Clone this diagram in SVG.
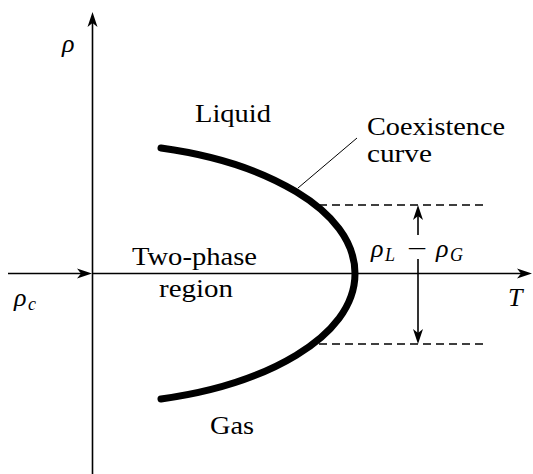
<svg xmlns="http://www.w3.org/2000/svg" width="533" height="474" viewBox="0 0 533 474">
<style>
.ax{stroke:#000;stroke-width:1.6;fill:none}
.dash{stroke:#000;stroke-width:1.5;fill:none;stroke-dasharray:8 5}
text{font-family:'Liberation Serif','Times New Roman',serif;fill:#000}
.t{font-size:25px}
.m{font-style:italic;font-size:26px}
.s{font-style:italic;font-size:18px}
</style>
<defs>
<marker id="ah" viewBox="-16 -6 17 12" refX="-5" refY="0" markerWidth="17" markerHeight="12" markerUnits="userSpaceOnUse" orient="auto">
<path d="M0,0 L-15,-5 L-11,0 L-15,5 Z" fill="#000"/>
</marker>
</defs>
<g id="connectors">
<line class="ax" x1="92.5" y1="474" x2="92.5" y2="17" marker-end="url(#ah)"/>
<line class="ax" x1="92.5" y1="273.5" x2="527" y2="273.5" marker-end="url(#ah)"/>
<line class="ax" x1="8" y1="273.5" x2="87" y2="273.5" marker-end="url(#ah)"/>
<line class="dash" x1="319" y1="205" x2="487" y2="205"/>
<line class="dash" x1="319" y1="344" x2="487" y2="344"/>
<line class="ax" x1="418" y1="235" x2="418" y2="210" marker-end="url(#ah)"/>
<line class="ax" x1="418" y1="259" x2="418" y2="339" marker-end="url(#ah)"/>
<line stroke="#000" stroke-width="1" x1="357" y1="138" x2="298" y2="188"/>
</g>
<g id="curve">
<path d="M161,148 C263,162 355,209 355,273.5 C355,338 263,385 161,399" fill="none" stroke="#000" stroke-width="7" stroke-linecap="round"/>
</g>
<g id="axis-labels">
<text class="m" x="62" y="52">ρ</text>
<text class="m" x="14" y="306">ρ<tspan class="s" x="28" y="310">c</tspan></text>
<text class="m" x="508" y="306">T</text>
</g>
<g id="liquid"><text class="t" x="195" y="122" textLength="76" lengthAdjust="spacingAndGlyphs">Liquid</text></g>
<g id="coexistence">
<text class="t" x="367" y="135" textLength="138" lengthAdjust="spacingAndGlyphs">Coexistence</text>
<text class="t" x="367" y="161.5" textLength="65" lengthAdjust="spacingAndGlyphs">curve</text>
</g>
<g id="two-phase">
<text class="t" x="132" y="265" textLength="125" lengthAdjust="spacingAndGlyphs">Two-phase</text>
<text class="t" x="159" y="297" textLength="74" lengthAdjust="spacingAndGlyphs">region</text>
</g>
<g id="gas"><text class="t" x="210" y="434" textLength="44" lengthAdjust="spacingAndGlyphs">Gas</text></g>
<g id="difference">
<text class="m" x="371" y="257">ρ</text>
<text class="s" x="385" y="261">L</text>
<text class="t" x="407" y="257" textLength="20" lengthAdjust="spacingAndGlyphs">−</text>
<text class="m" x="436" y="257">ρ</text>
<text class="s" x="450" y="261">G</text>
</g>
</svg>
